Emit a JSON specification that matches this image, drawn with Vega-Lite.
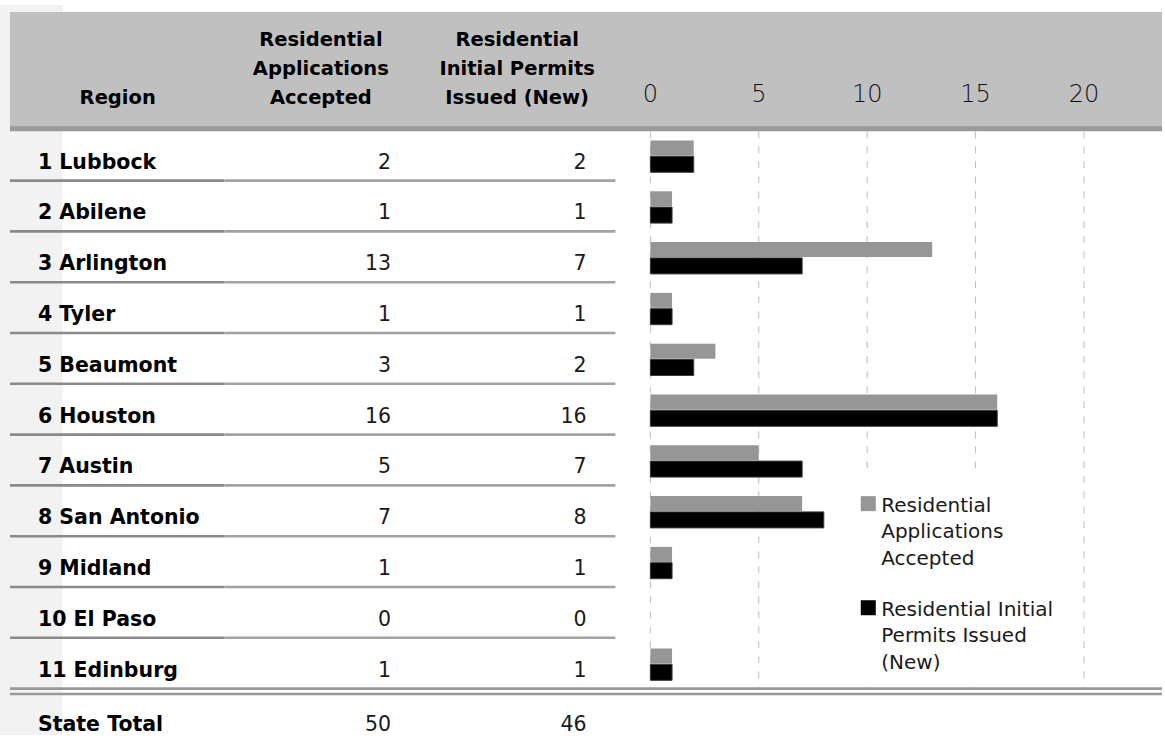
{
  "$schema": "https://vega.github.io/schema/vega-lite/v6.json",
  "width": 1165,
  "height": 740,
  "autosize": {"type": "fit", "contains": "padding"},
  "padding": 0,
  "background": "white",
  "config": {"view": {"stroke": null}, "font": "DejaVu Sans"},
  "datasets": {
    "regions": [
      {"Region": "1 Lubbock", "row": 1, "apps": 2, "permits": 2},
      {"Region": "2 Abilene", "row": 2, "apps": 1, "permits": 1},
      {"Region": "3 Arlington", "row": 3, "apps": 13, "permits": 7},
      {"Region": "4 Tyler", "row": 4, "apps": 1, "permits": 1},
      {"Region": "5 Beaumont", "row": 5, "apps": 3, "permits": 2},
      {"Region": "6 Houston", "row": 6, "apps": 16, "permits": 16},
      {"Region": "7 Austin", "row": 7, "apps": 5, "permits": 7},
      {"Region": "8 San Antonio", "row": 8, "apps": 7, "permits": 8},
      {"Region": "9 Midland", "row": 9, "apps": 1, "permits": 1},
      {"Region": "10 El Paso", "row": 10, "apps": 0, "permits": 0},
      {"Region": "11 Edinburg", "row": 11, "apps": 1, "permits": 1},
      {"Region": "State Total", "row": 12, "apps": 50, "permits": 46}
    ],
    "ticks": [{"tick": 0}, {"tick": 5}, {"tick": 10}, {"tick": 15}, {"tick": 20}]
  },
  "data": {"name": "regions"},
  "layer": [
    {
      "data": {"values": [{}]},
      "mark": {"type": "rect", "color": "#f2f2f2"},
      "encoding": {
        "x": {"datum": -30, "type": "quantitative", "scale": {"domain": [-30, 23.6], "nice": false, "zero": false}, "axis": null},
        "x2": {"datum": -27.115},
        "y": {"datum": -2.456, "type": "quantitative", "scale": {"domain": [-2.456, 11.913], "reverse": true, "nice": false, "zero": false}, "axis": null},
        "y2": {"datum": 11.913}
      }
    },
    {
      "data": {"values": [{}]},
      "mark": {"type": "rect", "color": "#c0c0c0"},
      "encoding": {
        "x": {"datum": -29.54, "type": "quantitative", "scale": {"domain": [-30, 23.6], "nice": false, "zero": false}, "axis": null},
        "x2": {"datum": 23.6},
        "y": {"datum": -2.32, "type": "quantitative", "scale": {"domain": [-2.456, 11.913], "reverse": true, "nice": false, "zero": false}, "axis": null},
        "y2": {"datum": -0.02}
      }
    },
    {
      "data": {"values": [{}]},
      "mark": {"type": "rule", "color": "#9a9a9a", "strokeWidth": 5},
      "encoding": {
        "x": {"datum": -29.54, "type": "quantitative", "scale": {"domain": [-30, 23.6], "nice": false, "zero": false}, "axis": null},
        "x2": {"datum": 23.6},
        "y": {"datum": -0.02, "type": "quantitative", "scale": {"domain": [-2.456, 11.913], "reverse": true, "nice": false, "zero": false}, "axis": null}
      }
    },
    {
      "data": {"name": "ticks"},
      "mark": {"type": "rule", "color": "#bdbdbd", "strokeWidth": 1, "strokeDash": [7, 8]},
      "encoding": {
        "x": {"field": "tick", "type": "quantitative", "scale": {"domain": [-30, 23.6], "nice": false, "zero": false}, "axis": null},
        "y": {"datum": 0.03, "type": "quantitative", "scale": {"domain": [-2.456, 11.913], "reverse": true, "nice": false, "zero": false}, "axis": null},
        "y2": {"datum": 10.98}
      }
    },
    {
      "data": {"values": [{}]},
      "mark": {"type": "rect", "color": "#ffffff"},
      "encoding": {
        "x": {"datum": 5.9, "type": "quantitative", "scale": {"domain": [-30, 23.6], "nice": false, "zero": false}, "axis": null},
        "x2": {"datum": 19.5},
        "y": {"datum": 6.75, "type": "quantitative", "scale": {"domain": [-2.456, 11.913], "reverse": true, "nice": false, "zero": false}, "axis": null},
        "y2": {"datum": 10.98}
      }
    },
    {
      "transform": [{"filter": "datum.row <= 10"}],
      "mark": {"type": "rule", "color": "#8a8a8a", "strokeWidth": 2.6},
      "encoding": {
        "x": {"datum": -29.54, "type": "quantitative", "scale": {"domain": [-30, 23.6], "nice": false, "zero": false}, "axis": null},
        "x2": {"datum": -19.648},
        "y": {"field": "row", "type": "quantitative", "scale": {"domain": [-2.456, 11.913], "reverse": true, "nice": false, "zero": false}, "axis": null}
      }
    },
    {
      "transform": [{"filter": "datum.row <= 10"}],
      "mark": {"type": "rule", "color": "#a3a3a3", "strokeWidth": 2.6},
      "encoding": {
        "x": {"datum": -19.648, "type": "quantitative", "scale": {"domain": [-30, 23.6], "nice": false, "zero": false}, "axis": null},
        "x2": {"datum": -1.612},
        "y": {"field": "row", "type": "quantitative", "scale": {"domain": [-2.456, 11.913], "reverse": true, "nice": false, "zero": false}, "axis": null}
      }
    },
    {
      "data": {"values": [{}]},
      "mark": {"type": "rule", "color": "#9a9a9a", "strokeWidth": 2.6},
      "encoding": {
        "x": {"datum": -29.54, "type": "quantitative", "scale": {"domain": [-30, 23.6], "nice": false, "zero": false}, "axis": null},
        "x2": {"datum": 23.6},
        "y": {"datum": 11, "type": "quantitative", "scale": {"domain": [-2.456, 11.913], "reverse": true, "nice": false, "zero": false}, "axis": null}
      }
    },
    {
      "data": {"values": [{}]},
      "mark": {"type": "rule", "color": "#9a9a9a", "strokeWidth": 2.6},
      "encoding": {
        "x": {"datum": -29.54, "type": "quantitative", "scale": {"domain": [-30, 23.6], "nice": false, "zero": false}, "axis": null},
        "x2": {"datum": 23.6},
        "y": {"datum": 11.107, "type": "quantitative", "scale": {"domain": [-2.456, 11.913], "reverse": true, "nice": false, "zero": false}, "axis": null}
      }
    },
    {
      "transform": [{"filter": "datum.row <= 11 && datum.apps > 0"}],
      "mark": {"type": "bar", "orient": "horizontal", "size": 15, "yOffset": -32.6, "color": "#969696"},
      "encoding": {
        "x": {"field": "apps", "type": "quantitative", "stack": null, "scale": {"domain": [-30, 23.6], "nice": false, "zero": false}, "axis": null},
        "x2": {"datum": 0},
        "y": {"field": "row", "type": "quantitative", "scale": {"domain": [-2.456, 11.913], "reverse": true, "nice": false, "zero": false}, "axis": null}
      }
    },
    {
      "transform": [{"filter": "datum.row <= 11 && datum.permits > 0"}],
      "mark": {"type": "bar", "orient": "horizontal", "size": 16, "yOffset": -16.3, "color": "#000000", "stroke": "#3a3a3a", "strokeWidth": 1},
      "encoding": {
        "x": {"field": "permits", "type": "quantitative", "stack": null, "scale": {"domain": [-30, 23.6], "nice": false, "zero": false}, "axis": null},
        "x2": {"datum": 0},
        "y": {"field": "row", "type": "quantitative", "scale": {"domain": [-2.456, 11.913], "reverse": true, "nice": false, "zero": false}, "axis": null}
      }
    },
    {
      "transform": [{"filter": "datum.row <= 11"}],
      "mark": {"type": "text", "align": "left", "baseline": "alphabetic", "dy": -12, "fontSize": 20.5, "fontWeight": "bold", "color": "#000000"},
      "encoding": {
        "text": {"field": "Region", "type": "nominal"},
        "x": {"datum": -28.252, "type": "quantitative", "scale": {"domain": [-30, 23.6], "nice": false, "zero": false}, "axis": null},
        "y": {"field": "row", "type": "quantitative", "scale": {"domain": [-2.456, 11.913], "reverse": true, "nice": false, "zero": false}, "axis": null}
      }
    },
    {
      "transform": [{"filter": "datum.row <= 11"}],
      "mark": {"type": "text", "align": "right", "baseline": "alphabetic", "dy": -12, "fontSize": 20.5, "fontWeight": "normal", "color": "#1a1a1a"},
      "encoding": {
        "text": {"field": "apps", "type": "quantitative"},
        "x": {"datum": -11.965, "type": "quantitative", "scale": {"domain": [-30, 23.6], "nice": false, "zero": false}, "axis": null},
        "y": {"field": "row", "type": "quantitative", "scale": {"domain": [-2.456, 11.913], "reverse": true, "nice": false, "zero": false}, "axis": null}
      }
    },
    {
      "transform": [{"filter": "datum.row <= 11"}],
      "mark": {"type": "text", "align": "right", "baseline": "alphabetic", "dy": -12, "fontSize": 20.5, "fontWeight": "normal", "color": "#1a1a1a"},
      "encoding": {
        "text": {"field": "permits", "type": "quantitative"},
        "x": {"datum": -2.946, "type": "quantitative", "scale": {"domain": [-30, 23.6], "nice": false, "zero": false}, "axis": null},
        "y": {"field": "row", "type": "quantitative", "scale": {"domain": [-2.456, 11.913], "reverse": true, "nice": false, "zero": false}, "axis": null}
      }
    },
    {
      "transform": [{"filter": "datum.row == 12"}],
      "mark": {"type": "text", "align": "left", "baseline": "alphabetic", "dy": -8, "fontSize": 20.5, "fontWeight": "bold", "color": "#000000"},
      "encoding": {
        "text": {"field": "Region", "type": "nominal"},
        "x": {"datum": -28.252, "type": "quantitative", "scale": {"domain": [-30, 23.6], "nice": false, "zero": false}, "axis": null},
        "y": {"field": "row", "type": "quantitative", "scale": {"domain": [-2.456, 11.913], "reverse": true, "nice": false, "zero": false}, "axis": null}
      }
    },
    {
      "transform": [{"filter": "datum.row == 12"}],
      "mark": {"type": "text", "align": "right", "baseline": "alphabetic", "dy": -8, "fontSize": 20.5, "fontWeight": "normal", "color": "#1a1a1a"},
      "encoding": {
        "text": {"field": "apps", "type": "quantitative"},
        "x": {"datum": -11.965, "type": "quantitative", "scale": {"domain": [-30, 23.6], "nice": false, "zero": false}, "axis": null},
        "y": {"field": "row", "type": "quantitative", "scale": {"domain": [-2.456, 11.913], "reverse": true, "nice": false, "zero": false}, "axis": null}
      }
    },
    {
      "transform": [{"filter": "datum.row == 12"}],
      "mark": {"type": "text", "align": "right", "baseline": "alphabetic", "dy": -8, "fontSize": 20.5, "fontWeight": "normal", "color": "#1a1a1a"},
      "encoding": {
        "text": {"field": "permits", "type": "quantitative"},
        "x": {"datum": -2.946, "type": "quantitative", "scale": {"domain": [-30, 23.6], "nice": false, "zero": false}, "axis": null},
        "y": {"field": "row", "type": "quantitative", "scale": {"domain": [-2.456, 11.913], "reverse": true, "nice": false, "zero": false}, "axis": null}
      }
    },
    {
      "data": {"name": "ticks"},
      "mark": {"type": "text", "align": "center", "baseline": "alphabetic", "fontSize": 24, "fontWeight": 300, "color": "#111111"},
      "encoding": {
        "text": {"field": "tick", "type": "quantitative"},
        "x": {"field": "tick", "type": "quantitative", "scale": {"domain": [-30, 23.6], "nice": false, "zero": false}, "axis": null},
        "y": {"datum": -0.553, "type": "quantitative", "scale": {"domain": [-2.456, 11.913], "reverse": true, "nice": false, "zero": false}, "axis": null}
      }
    },
    {
      "data": {"values": [{}]},
      "mark": {"type": "text", "text": "Region", "align": "center", "baseline": "alphabetic", "fontSize": 19.5, "fontWeight": "bold", "color": "#000000"},
      "encoding": {
        "x": {"datum": -24.571, "type": "quantitative", "scale": {"domain": [-30, 23.6], "nice": false, "zero": false}, "axis": null},
        "y": {"datum": -0.514, "type": "quantitative", "scale": {"domain": [-2.456, 11.913], "reverse": true, "nice": false, "zero": false}, "axis": null}
      }
    },
    {
      "data": {"values": [{}]},
      "mark": {"type": "text", "text": ["Residential", "Applications", "Accepted"], "lineHeight": 29, "align": "center", "baseline": "alphabetic", "fontSize": 19.5, "fontWeight": "bold", "color": "#000000"},
      "encoding": {
        "x": {"datum": -15.199, "type": "quantitative", "scale": {"domain": [-30, 23.6], "nice": false, "zero": false}, "axis": null},
        "y": {"datum": -1.641, "type": "quantitative", "scale": {"domain": [-2.456, 11.913], "reverse": true, "nice": false, "zero": false}, "axis": null}
      }
    },
    {
      "data": {"values": [{}]},
      "mark": {"type": "text", "text": ["Residential", "Initial Permits", "Issued (New)"], "lineHeight": 29, "align": "center", "baseline": "alphabetic", "fontSize": 19.5, "fontWeight": "bold", "color": "#000000"},
      "encoding": {
        "x": {"datum": -6.144, "type": "quantitative", "scale": {"domain": [-30, 23.6], "nice": false, "zero": false}, "axis": null},
        "y": {"datum": -1.641, "type": "quantitative", "scale": {"domain": [-2.456, 11.913], "reverse": true, "nice": false, "zero": false}, "axis": null}
      }
    },
    {
      "data": {"values": [{}]},
      "mark": {"type": "point", "shape": "square", "size": 225, "filled": true, "opacity": 1, "color": "#969696"},
      "encoding": {
        "x": {"datum": 10.051, "type": "quantitative", "scale": {"domain": [-30, 23.6], "nice": false, "zero": false}, "axis": null},
        "y": {"datum": 7.359, "type": "quantitative", "scale": {"domain": [-2.456, 11.913], "reverse": true, "nice": false, "zero": false}, "axis": null}
      }
    },
    {
      "data": {"values": [{}]},
      "mark": {"type": "point", "shape": "square", "size": 225, "filled": true, "opacity": 1, "color": "#000000"},
      "encoding": {
        "x": {"datum": 10.051, "type": "quantitative", "scale": {"domain": [-30, 23.6], "nice": false, "zero": false}, "axis": null},
        "y": {"datum": 9.408, "type": "quantitative", "scale": {"domain": [-2.456, 11.913], "reverse": true, "nice": false, "zero": false}, "axis": null}
      }
    },
    {
      "data": {"values": [{}]},
      "mark": {"type": "text", "text": ["Residential", "Applications", "Accepted"], "lineHeight": 26.5, "align": "left", "baseline": "alphabetic", "fontSize": 20, "fontWeight": "normal", "color": "#1a1a1a"},
      "encoding": {
        "x": {"datum": 10.649, "type": "quantitative", "scale": {"domain": [-30, 23.6], "nice": false, "zero": false}, "axis": null},
        "y": {"datum": 7.515, "type": "quantitative", "scale": {"domain": [-2.456, 11.913], "reverse": true, "nice": false, "zero": false}, "axis": null}
      }
    },
    {
      "data": {"values": [{}]},
      "mark": {"type": "text", "text": ["Residential Initial", "Permits Issued", "(New)"], "lineHeight": 26.5, "align": "left", "baseline": "alphabetic", "fontSize": 20, "fontWeight": "normal", "color": "#1a1a1a"},
      "encoding": {
        "x": {"datum": 10.649, "type": "quantitative", "scale": {"domain": [-30, 23.6], "nice": false, "zero": false}, "axis": null},
        "y": {"datum": 9.564, "type": "quantitative", "scale": {"domain": [-2.456, 11.913], "reverse": true, "nice": false, "zero": false}, "axis": null}
      }
    }
  ]
}
